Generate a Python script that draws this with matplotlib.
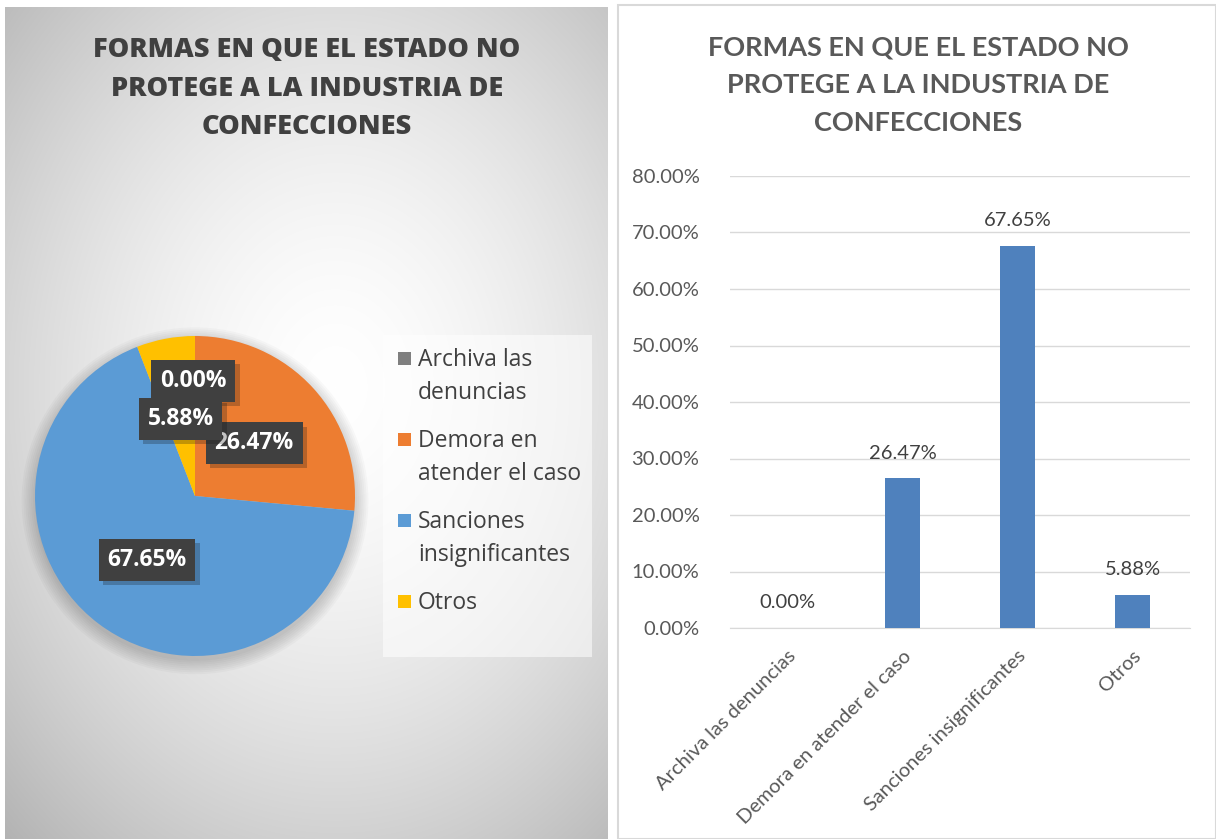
import numpy as np
import matplotlib
matplotlib.use("Agg")
from matplotlib import pyplot as plt
from matplotlib.patches import Rectangle, Circle
from matplotlib.ticker import FuncFormatter
from matplotlib import patheffects as pe

# data
categories = ["Archiva las denuncias", "Demora en atender el caso",
              "Sanciones insignificantes", "Otros"]
legend_labels = ["Archiva las\ndenuncias", "Demora en\natender el caso",
                 "Sanciones\ninsignificantes", "Otros"]
shares = [0.0, 26.47, 67.65, 5.88]
pie_colors = ["#7F7F7F", "#ED7D31", "#5B9BD5", "#FFC000"]
bar_color = "#4F81BD"
title = "FORMAS EN QUE EL ESTADO NO\nPROTEGE A LA INDUSTRIA DE\nCONFECCIONES"

W, H = 1216, 839
fig = plt.figure(figsize=(W / 100, H / 100), dpi=100)
fig.patch.set_facecolor("white")


def box(x0, y0, x1, y1):
    # pixel box (top-left origin) -> figure fraction rect
    return [x0 / W, 1 - y1 / H, (x1 - x0) / W, (y1 - y0) / H]


# ---- left panel: radial gradient background ----
bg = fig.add_axes(box(5, 7, 608, 839))
yy, xx = np.mgrid[0:832, 0:603]
d = np.hypot((xx - 330) / 420.0, (yy - 380) / 540.0)
g = 1.0 - 0.24 * np.clip(d, 0, 1.2) ** 1.6
bg.imshow(np.dstack([g, g, g]), aspect="auto", extent=[0, 1, 0, 1])
bg.set_axis_off()

fig.text(307 / W, 1 - 88.5 / H, title, ha="center", va="center",
         fontsize=19.5, fontweight=800, color="#404040",
         family="Open Sans", linespacing=1.63)

# pie
pax = fig.add_axes(box(35, 336, 355, 656))
pax.set_axis_off()
for k in range(8):
    pax.add_patch(Circle((0.0, -0.03), 1.0 + 0.012 * k, color="black",
                         alpha=0.022, lw=0, zorder=0, clip_on=False))
pax.pie(shares, colors=pie_colors, startangle=90, counterclock=False,
        radius=1.0, wedgeprops=dict(lw=0))
pax.set_xlim(-1, 1)
pax.set_ylim(-1, 1)

# label centres, same order as shares
label_pos = [(-0.01, 0.72), (0.37, 0.33), (-0.30, -0.40), (-0.09, 0.48)]
for v, (lx, ly) in zip(shares, label_pos):
    t = pax.text(lx, ly, f"{v:.2f}%", color="white", zorder=5,
                 ha="center", va="center", fontsize=16.5, fontweight="bold",
                 family="Open Sans",
                 bbox=dict(boxstyle="square,pad=0.38", fc="#404040",
                           ec="none"))
    t.get_bbox_patch().set_path_effects(
        [pe.SimplePatchShadow(offset=(3, -3), alpha=0.25), pe.Normal()])

# legend (manual, Excel style)
fig.patches.append(Rectangle((383 / W, 1 - 657 / H), 209 / W, 322 / H,
                             transform=fig.transFigure, fc="white",
                             alpha=0.55, lw=0))
ly0 = 362
for lab, col in zip(legend_labels, pie_colors):
    fig.patches.append(Rectangle((398 / W, 1 - (ly0 + 3) / H), 13 / W, 13 / H,
                                 transform=fig.transFigure, fc=col, lw=0))
    fig.text(418 / W, 1 - (ly0 - 14) / H, lab, ha="left", va="top",
             fontsize=16.5, color="#404040", family="Open Sans",
             linespacing=1.52)
    ly0 += 81

# ---- right panel ----
fig.patches.append(Rectangle((618 / W, 0), 1 - 618 / W, 1 - 5 / H,
                             transform=fig.transFigure, fc="white",
                             ec="#D9D9D9", lw=1.5, zorder=-1))
fig.text(918 / W, 1 - 85 / H, title, ha="center", va="center",
         fontsize=19.5, fontweight="bold", color="#595959", family="Lato",
         linespacing=1.69)

ax = fig.add_axes(box(730, 176, 1190, 628))
x = np.arange(len(categories))
vals = np.array(shares) / 100
bars = ax.bar(x, vals, width=0.31, color=bar_color, zorder=3)
ax.set_xlim(-0.5, len(categories) - 0.5)
ax.set_ylim(0, 0.8)
ax.set_yticks(np.arange(0, 0.81, 0.1))
ax.yaxis.set_major_formatter(FuncFormatter(lambda v, p: f"{v * 100:.2f}%"))
ax.grid(axis="y", color="#D9D9D9", lw=1, zorder=0)
for s in ["top", "right", "left"]:
    ax.spines[s].set_visible(False)
ax.spines["bottom"].set_color("#D9D9D9")
ax.tick_params(length=0, labelsize=14.5, labelcolor="#595959")
ax.tick_params(axis="y", pad=22)
ax.set_xticks(x)
ax.set_xticklabels(categories, rotation=45, ha="right",
                   rotation_mode="anchor", family="Lato")
ax.tick_params(axis="x", pad=14)
for t in ax.get_yticklabels():
    t.set_family("Lato")
ax.set_facecolor("none")
for b, v in zip(bars, shares):
    ax.annotate(f"{v:.2f}%", (b.get_x() + b.get_width() / 2, b.get_height()),
                xytext=(0, 12), textcoords="offset points", ha="center",
                va="bottom", fontsize=14.5, color="#404040", family="Lato")

fig.savefig("out.png", dpi=100)
